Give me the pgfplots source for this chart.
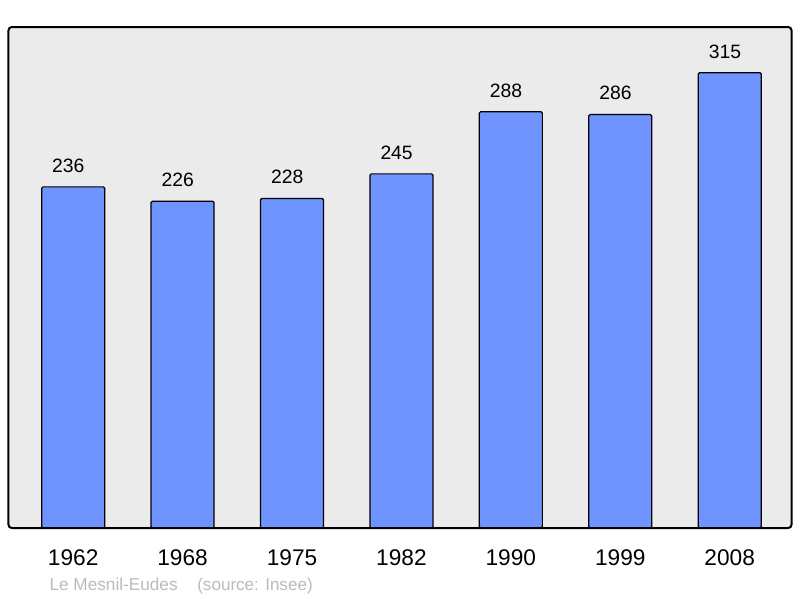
\documentclass[border=0pt]{standalone}
\usepackage{pgfplots}
\pgfplotsset{compat=1.18}
\usepackage{fontspec}
\setmainfont{Liberation Sans}
\definecolor{barfill}{RGB}{112,148,255}
\definecolor{bgfill}{RGB}{235,235,235}
\definecolor{srcgray}{RGB}{187,187,187}
\begin{document}
\begin{tikzpicture}
\begin{axis}[
  scale only axis,
  width=587.25pt, height=375.75pt,
  xmin=-0.591, xmax=6.565,
  ymin=0, ymax=346.6,
  ybar, bar width=47.25pt,
  xtick={0,...,6},
  xticklabels={1962,1968,1975,1982,1990,1999,2008},
  ytick=\empty,
  major tick length=0pt,
  axis line style={draw=none},
  axis background/.style={fill=bgfill},
  xticklabel style={font=\fontsize{17}{17}\selectfont, anchor=base, yshift=-27.75pt},
  nodes near coords,
  nodes near coords style={font=\fontsize{14.5}{14.5}\selectfont, anchor=base, xshift=-3.6pt, yshift=11pt},
  /pgf/number format/assume math mode=true,
  clip=false,
]
  % population
  \addplot[fill=barfill, draw=black, line width=0.9pt, rounded corners=1pt] coordinates {
    (0,236) (1,226) (2,228) (3,245) (4,288) (5,286) (6,315)
  };
  \draw[line width=1.5pt, rounded corners=2.5pt] (rel axis cs:0,0) rectangle (rel axis cs:1,1);
\end{axis}
\node[anchor=base west, inner sep=0pt, text=srcgray, font=\fontsize{12.9}{12.9}\selectfont]
  at ([xshift=30.6pt, yshift=-46.9pt]current axis.south west) {Le Mesnil-Eudes};
\node[anchor=base west, inner sep=0pt, text=srcgray, font=\fontsize{12.8}{12.8}\selectfont]
  at ([xshift=141.4pt, yshift=-46.9pt]current axis.south west) {(source: Insee)};
\pgfresetboundingbox
\path[use as bounding box] ([xshift=-6.375pt,yshift=-52.5pt]current axis.south west)
  rectangle ([xshift=6.375pt,yshift=20.25pt]current axis.north east);
\end{tikzpicture}
\end{document}
